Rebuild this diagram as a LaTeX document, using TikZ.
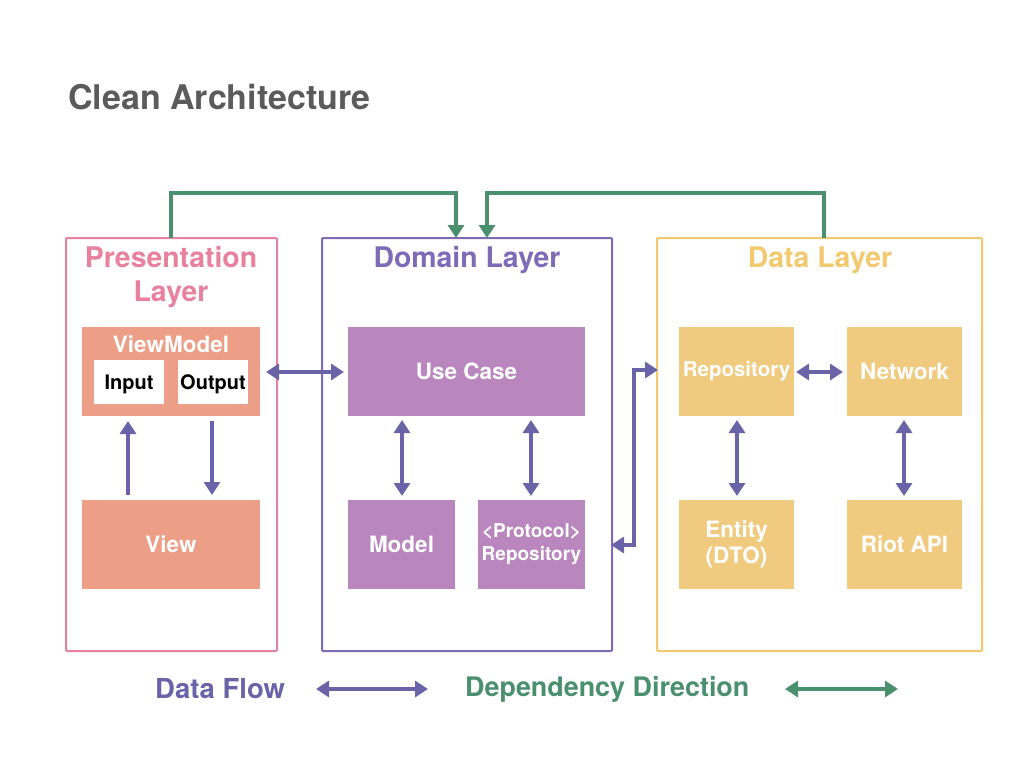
\documentclass[tikz,border=0pt]{standalone}
\usepackage{fontspec}
\setmainfont{TeX Gyre Heros}
\usetikzlibrary{arrows.meta}
\definecolor{titlegray}{HTML}{5B5B5B}
\definecolor{pink}{HTML}{E8819D}
\definecolor{dompurple}{HTML}{7D6BB8}
\definecolor{datayellow}{HTML}{F2C96F}
\definecolor{vmfill}{HTML}{EC9E87}
\definecolor{ucfill}{HTML}{B986BE}
\definecolor{dfill}{HTML}{F0CA7E}
\definecolor{flow}{HTML}{6A63A8}
\definecolor{dep}{HTML}{4A8F6E}
\tikzset{
  layerbox/.style={draw, line width=2pt, rounded corners=1pt},
  boxfont/.style={font=\bfseries\fontsize{22.5}{26}\selectfont},
  blk/.style={inner sep=0pt, text=white, boxfont, align=center, minimum height=89pt},
  flowarr/.style={draw=flow, line width=4pt, {Triangle[length=13pt,width=16pt]}-{Triangle[length=13pt,width=16pt]}},
  flowone/.style={draw=flow, line width=4pt, -{Triangle[length=13pt,width=16pt]}},
  deparr/.style={draw=dep, line width=4pt, -{Triangle[length=13pt,width=16pt]}},
  depboth/.style={draw=dep, line width=4pt, {Triangle[length=13pt,width=16pt]}-{Triangle[length=13pt,width=16pt]}},
  ltitle/.style={font=\bfseries\fontsize{28.4}{34}\selectfont, align=center, inner sep=0pt},
  legend/.style={anchor=west, font=\bfseries\fontsize{27.5}{30}\selectfont, inner sep=0pt},
  io/.style={fill=white, minimum width=70pt, minimum height=44pt, inner sep=0pt, font=\bfseries\fontsize{20}{24}\selectfont},
}
\begin{document}
\begin{tikzpicture}[x=1pt,y=-1pt]
\useasboundingbox (0,0) rectangle (1024,768);
% title
\node[anchor=west, text=titlegray, font=\bfseries\fontsize{34}{40}\selectfont, inner sep=0pt] (title) at (68,97) {Clean Architecture};
% layer boxes
\draw[layerbox, pink] (66,238) rectangle (277,651);
\draw[layerbox, dompurple] (322,238) rectangle (612,651);
\draw[layerbox, datayellow] (657,238) rectangle (982,651);
\coordinate (presTop) at (171,238);
\coordinate (dataTop) at (824,238);
\coordinate (domTopL) at (456,238);
\coordinate (domTopR) at (487,238);
\coordinate (dataLeft) at (658,370);
\node[ltitle, text=pink] (presT) at (171,277) {Presentation\\Layer};
\node[ltitle, text=dompurple] (domT) at (467,260) {Domain Layer};
\node[ltitle, text=datayellow] (dataT) at (820,260) {Data Layer};
% presentation blocks
\node[blk, fill=vmfill, minimum width=178pt] (vm) at (171,371.5) {};
\node[text=white, boxfont, inner sep=0pt] (vmT) at (171,344) {ViewModel};
\node[io] (inp) at (129,382) {};
\node[inner sep=0pt, font=\bfseries\fontsize{20}{24}\selectfont] (inpT) at (129,384) {Input};
\node[io] (outp) at (213,382) {};
\node[inner sep=0pt, font=\bfseries\fontsize{20}{24}\selectfont] (outpT) at (213,384) {Output};
\node[blk, fill=vmfill, minimum width=178pt] (view) at (171,544.5) {View};
% domain blocks
\node[blk, fill=ucfill, minimum width=237pt] (uc) at (466.5,371.5) {Use Case};
\node[blk, fill=ucfill, minimum width=107pt] (model) at (401.5,544.5) {Model};
\node[blk, fill=ucfill, minimum width=107pt, font=\bfseries\fontsize{19}{23}\selectfont] (prepo) at (531.5,544.5) {<Protocol>\\Repository};
% data blocks
\node[blk, fill=dfill, minimum width=115pt, font=\bfseries\fontsize{20.5}{24}\selectfont] (repo) at (736.5,371.5) {Repository};
\node[blk, fill=dfill, minimum width=115pt] (net) at (904.5,371.5) {Network};
\node[blk, fill=dfill, minimum width=115pt] (ent) at (736.5,544.5) {Entity\\(DTO)};
\node[blk, fill=dfill, minimum width=115pt] (riot) at (904.5,544.5) {Riot API};
% flow arrows
\draw[flowone] (128,495) -- (128,421);
\draw[flowone] (212,421) -- (212,495);
\draw[flowarr] (266,372) -- (344,372);
\draw[flowarr] (402,420) -- (402,496);
\draw[flowarr] (531,420) -- (531,496);
\draw[flowarr] (611,545) -- (634,545) -- (634,370) -- (dataLeft);
\draw[flowarr] (796,372) -- (843,372);
\draw[flowarr] (737,420) -- (737,496);
\draw[flowarr] (904,420) -- (904,496);
% dependency arrows
\draw[deparr] (presTop) -- (171,193) -- (456,193) -- (domTopL);
\draw[deparr] (dataTop) -- (824,193) -- (487,193) -- (domTopR);
% legend
\node[legend, text=flow] (lflow) at (155,689) {Data Flow};
\coordinate (lf1) at (316,689); \coordinate (lf2) at (428,689);
\draw[flowarr] (lf1) -- (lf2);
\node[legend, text=dep, font=\bfseries\fontsize{26.9}{30}\selectfont] (ldep) at (465,689) {Dependency Direction};
\coordinate (ld1) at (785,689); \coordinate (ld2) at (898,689);
\draw[depboth] (ld1) -- (ld2);
\end{tikzpicture}
\end{document}
